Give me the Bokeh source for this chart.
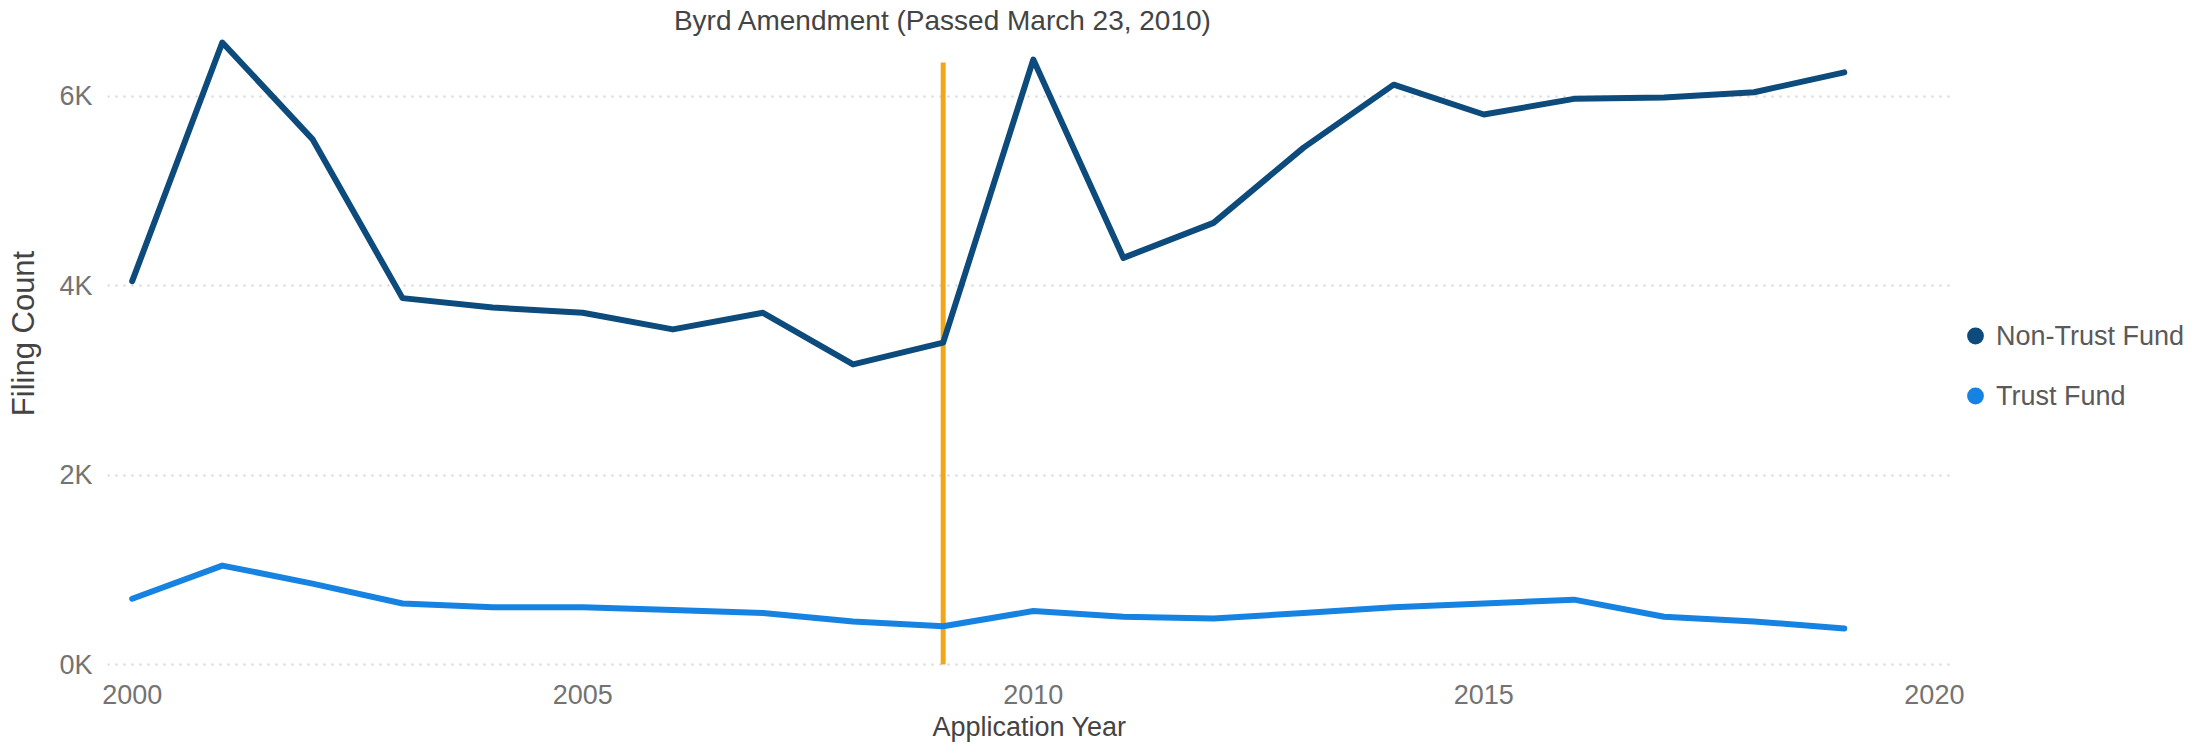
from bokeh.plotting import figure
from bokeh.models import (ColumnDataSource, FixedTicker, Legend, LegendItem,
                          Label, Range1d)
from bokeh.embed import file_html
from bokeh.resources import INLINE

# ---------------- data ----------------
years = list(range(2000, 2020))
non_trust_fund = [4050, 6570, 5550, 3870, 3770, 3715, 3540, 3715, 3170, 3400,
                  6390, 4295, 4665, 5460, 6125, 5810, 5975, 5990, 6045, 6255]
trust_fund = [695, 1045, 855, 645, 605, 605, 575, 545, 455, 405,
              565, 505, 485, 545, 605, 645, 685, 505, 455, 380]
series_names = ["Non-Trust Fund", "Trust Fund"]

amendment_year = [2009]
amendment_bottom = [0]
amendment_top = [6360]
amendment_label = "Byrd Amendment (Passed March 23, 2010)"

x_ticks = [2000, 2005, 2010, 2015, 2020]
y_ticks = [0, 2000, 4000, 6000]
y_tick_labels = ["0K", "2K", "4K", "6K"]
x_title = "Application Year"
y_title = "Filing Count"

# ---------------- style / layout ----------------
FONT = "Liberation Sans"
C_NON = "#0c4b7b"
C_TRUST = "#1683e2"
C_AMEND = "#f2a71b"
TICK_C = "#737373"
LABEL_C = "#444444"

X0, X1 = 1999.726, 2020.19
Y0, Y1 = -21, 7014
TITLE_Y = 6803        # data-space height of the annotation text (above the data)

src = ColumnDataSource(dict(year=years, non=non_trust_fund, trust=trust_fund))
amend = ColumnDataSource(dict(x=amendment_year, y0=amendment_bottom, y1=amendment_top))

p = figure(frame_width=1844, frame_height=666, output_backend="svg",
           toolbar_location=None,
           x_range=Range1d(X0, X1), y_range=Range1d(Y0, Y1),
           min_border_left=107, min_border_right=257, min_border_top=0,
           min_border_bottom=85)
p.outline_line_color = None
p.background_fill_color = "white"
p.border_fill_color = "white"

p.xgrid.visible = False
p.ygrid.ticker = FixedTicker(ticks=y_ticks)
p.ygrid.grid_line_color = "#d3d3d3"
p.ygrid.grid_line_dash = "2 6"
p.ygrid.grid_line_width = 2

for ax in (p.xaxis[0], p.yaxis[0]):
    ax.axis_line_color = None
    ax.major_tick_line_color = None
    ax.minor_tick_line_color = None
    ax.major_tick_in = 0
    ax.major_tick_out = 0
    ax.major_label_text_font = FONT
    ax.major_label_text_font_size = "27px"
    ax.major_label_text_color = TICK_C
    ax.axis_label_text_font = FONT
    ax.axis_label_text_font_style = "normal"
    ax.axis_label_text_color = LABEL_C

p.xaxis.ticker = FixedTicker(ticks=x_ticks)
p.xaxis.axis_label = x_title
p.xaxis.axis_label_text_font_size = "27px"
p.xaxis.major_label_standoff = 18
p.xaxis.axis_label_standoff = 5

p.yaxis.ticker = FixedTicker(ticks=y_ticks)
p.yaxis.major_label_overrides = dict(zip(y_ticks, y_tick_labels))
p.yaxis.axis_label = y_title
p.yaxis.axis_label_text_font_size = "31px"
p.yaxis.major_label_standoff = 15
p.yaxis.axis_label_standoff = 15

# amendment marker
p.segment(x0="x", y0="y0", x1="x", y1="y1", source=amend,
          line_color=C_AMEND, line_width=5)

# series lines
p.line("year", "trust", source=src, line_color=C_TRUST, line_width=6,
       line_join="round", line_cap="round")
p.line("year", "non", source=src, line_color=C_NON, line_width=6,
       line_join="round", line_cap="round")

# legend proxies (zero-size markers, only shown in legend)
s_non = p.scatter("year", "non", source=src, size=0, fill_color=C_NON,
                  line_color=None)
s_trust = p.scatter("year", "trust", source=src, size=0, fill_color=C_TRUST,
                    line_color=None)

p.add_layout(Label(x=amendment_year[0], y=TITLE_Y, text=amendment_label,
                   text_align="center", text_baseline="middle",
                   text_font=FONT, text_font_size="28px", text_color=LABEL_C))

legend = Legend(items=[LegendItem(label=series_names[0], renderers=[s_non]),
                       LegendItem(label=series_names[1], renderers=[s_trust])],
                location="center_left", orientation="vertical",
                title=" ", title_text_font_size="27px", title_standoff=34,
                glyph_width=42, glyph_height=48, label_standoff=0,
                spacing=12, padding=0, margin=3,
                border_line_color=None, background_fill_alpha=0,
                label_text_font=FONT, label_text_font_size="27px",
                label_text_color="#5a5a5a", label_text_baseline="middle")
p.add_layout(legend, "right")

open("out.html", "w").write(file_html(p, INLINE))
